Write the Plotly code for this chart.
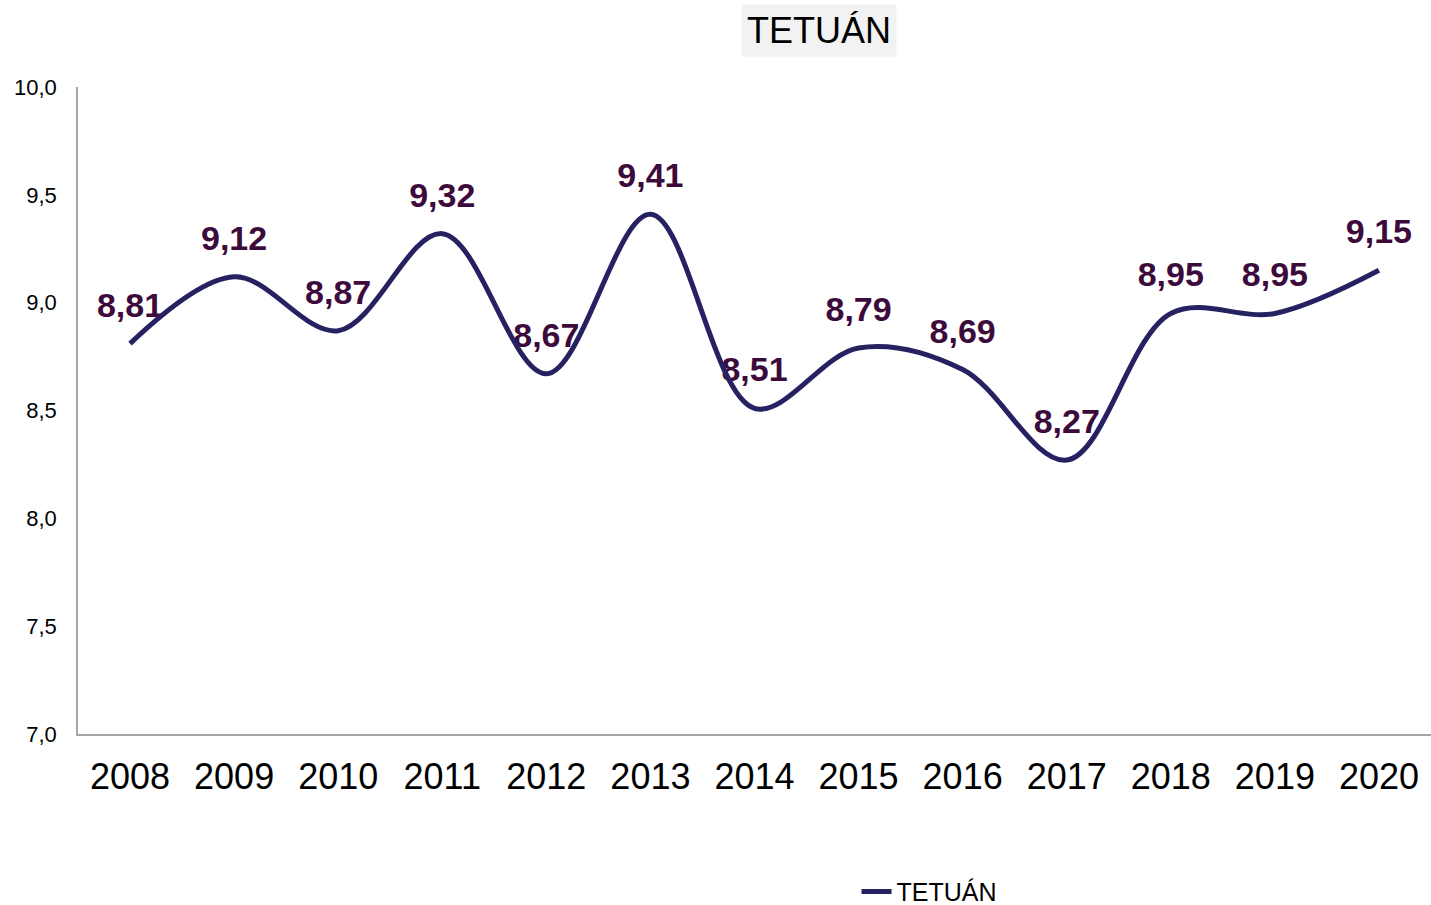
import plotly.graph_objects as go

years = ["2008", "2009", "2010", "2011", "2012", "2013", "2014",
         "2015", "2016", "2017", "2018", "2019", "2020"]
values = [8.81, 9.12, 8.87, 9.32, 8.67, 9.41, 8.51, 8.79, 8.69, 8.27, 8.95, 8.95, 9.15]
labels = [f"{v:.2f}".replace(".", ",") for v in values]
series_name = "TETUÁN"
y_ticks = [7.0, 7.5, 8.0, 8.5, 9.0, 9.5, 10.0]
y_tick_text = [f"{t:.1f}".replace(".", ",") for t in y_ticks]

LINE = "#262262"
LABEL = "#3d0b3b"
FONT = "Liberation Sans, Arial, sans-serif"

fig = go.Figure()
# labels (drawn beneath the line)
fig.add_trace(go.Scatter(
    x=years, y=values, mode="markers+text", text=labels,
    textposition="top center",
    textfont=dict(family=FONT, size=34, color=LABEL, weight="bold"),
    marker=dict(size=28, color="rgba(0,0,0,0)"),
    showlegend=False, hoverinfo="skip", cliponaxis=False,
))
fig.add_trace(go.Scatter(
    x=years, y=values, mode="lines", name=series_name,
    line=dict(color=LINE, width=5, shape="spline", smoothing=1.0),
    cliponaxis=False,
))

fig.update_layout(
    width=1431, height=905,
    paper_bgcolor="white", plot_bgcolor="white",
    margin=dict(l=78, r=0, t=87, b=171, autoexpand=False),
    font=dict(family=FONT, color="black"),
    showlegend=True,
    legend=dict(orientation="h", x=0.629, xanchor="center", y=-0.244, yanchor="middle",
                font=dict(size=25, family=FONT), itemwidth=30),
    annotations=[dict(
        text=series_name, x=(819 - 78) / 1353, y=1 + (87 - 30.5) / 647,
        xref="paper", yref="paper", xanchor="center", yanchor="middle",
        showarrow=False, font=dict(size=36, family=FONT, color="black"),
        bgcolor="#f2f2f2", borderpad=5,
    )],
)

fig.update_xaxes(
    type="category", range=[-0.5, 12.5], automargin=False,
    showline=True, linecolor="#a6a6a6", linewidth=1.5,
    showgrid=False, ticks="", ticklabelstandoff=10,
    tickfont=dict(size=36, family=FONT, color="black"),
)
fig.update_yaxes(
    range=[7.0, 10.0], tickvals=y_ticks, ticktext=y_tick_text, automargin=False,
    showline=True, linecolor="#a6a6a6", linewidth=1.5,
    showgrid=False, zeroline=False, ticks="", ticklabelstandoff=15,
    tickfont=dict(size=22, family=FONT, color="black"),
)

fig.write_html("out.html", config={"displayModeBar": False},
               post_script="document.body.style.margin='0';document.body.style.overflow='hidden';")
